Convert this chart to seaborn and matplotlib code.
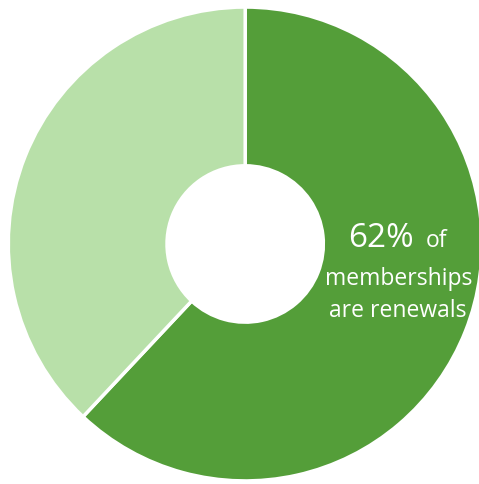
import matplotlib
matplotlib.use("Agg")
import matplotlib.pyplot as plt
import seaborn as sns

# membership split, percent
labels = ["Renewals", "New"]
values = [62, 38]
colors = ["#549E39", "#B8E0A9"]

sns.set_theme(style="white")
plt.rcParams["font.family"] = ["Open Sans", "DejaVu Sans"]

fig = plt.figure(figsize=(4.79, 4.85), dpi=100)
ax = fig.add_axes([0, 0, 1, 1])

ax.pie(values, colors=sns.color_palette(colors), startangle=90, counterclock=False,
       radius=1.0, wedgeprops=dict(width=0.67, edgecolor="white", linewidth=2.5))

ax.set_xlim(-1.035, 0.987)
ax.set_ylim(-1.013, 1.034)
ax.set_aspect("auto")
ax.axis("off")

ax.text(0.713, -0.008, f"{values[0]}%", ha="right", va="baseline", color="white", fontsize=24)
ax.text(0.762, -0.008, "of", ha="left", va="baseline", color="white", fontsize=16.5)
ax.text(0.646, -0.169, "memberships", ha="center", va="baseline", color="white", fontsize=16.5)
ax.text(0.646, -0.304, "are renewals", ha="center", va="baseline", color="white", fontsize=16.5)

fig.savefig("out.png", dpi=100)
